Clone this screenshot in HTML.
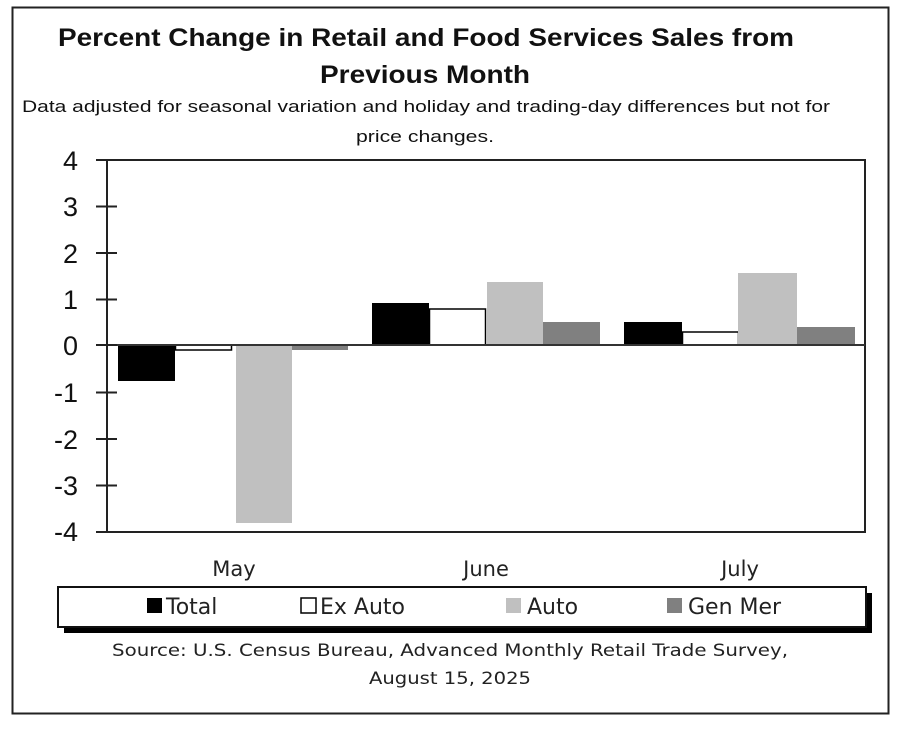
<!DOCTYPE html>
<html><head><meta charset="utf-8"><style>
html,body{margin:0;padding:0;background:#fff;}
svg{display:block;}
text{font-family:"Liberation Sans",Arial,sans-serif;}
</style></head><body>
<svg width="900" height="737" viewBox="0 0 900 737" xmlns="http://www.w3.org/2000/svg">
<rect x="0" y="0" width="900" height="737" fill="#fff"/>
<rect x="12.5" y="7.5" width="876" height="706" fill="none" stroke="#222" stroke-width="2"/>
<text x="58" y="46" font-size="25" font-weight="bold" fill="#111" textLength="736" lengthAdjust="spacingAndGlyphs">Percent Change in Retail and Food Services Sales from</text>
<text x="425" y="83" font-size="25" font-weight="bold" fill="#111" text-anchor="middle" textLength="210" lengthAdjust="spacingAndGlyphs">Previous Month</text>
<text x="22" y="112" font-size="17" fill="#111" textLength="808" lengthAdjust="spacingAndGlyphs">Data adjusted for seasonal variation and holiday and trading-day differences but not for</text>
<text x="425" y="142" font-size="17" fill="#111" text-anchor="middle" textLength="138" lengthAdjust="spacingAndGlyphs">price changes.</text>
<!-- bars -->
<g>
<rect x="118" y="345" width="57" height="36" fill="#000"/>
<rect x="175.5" y="345" width="56" height="5" fill="#fff" stroke="#000" stroke-width="1.5"/>
<rect x="236" y="345" width="56" height="178" fill="#c0c0c0"/>
<rect x="292" y="345" width="56" height="5" fill="#808080"/>
<rect x="372" y="303" width="57" height="42" fill="#000"/>
<rect x="429.5" y="309" width="56" height="36" fill="#fff" stroke="#000" stroke-width="1.5"/>
<rect x="487" y="282" width="56" height="63" fill="#c0c0c0"/>
<rect x="543" y="322" width="57" height="23" fill="#808080"/>
<rect x="624" y="322" width="58" height="23" fill="#000"/>
<rect x="682.5" y="332" width="56" height="13" fill="#fff" stroke="#000" stroke-width="1.5"/>
<rect x="738" y="273" width="59" height="72" fill="#c0c0c0"/>
<rect x="797" y="327" width="58" height="18" fill="#808080"/>
</g>
<!-- axes -->
<rect x="107" y="160" width="758" height="372" fill="none" stroke="#222" stroke-width="2"/>
<line x1="107" y1="345" x2="865" y2="345" stroke="#333" stroke-width="2"/>
<g stroke="#222" stroke-width="2">
<line x1="96" y1="160" x2="117" y2="160"/>
<line x1="96" y1="206.5" x2="117" y2="206.5"/>
<line x1="96" y1="253" x2="117" y2="253"/>
<line x1="96" y1="299.5" x2="117" y2="299.5"/>
<line x1="96" y1="345" x2="117" y2="345"/>
<line x1="96" y1="392.5" x2="117" y2="392.5"/>
<line x1="96" y1="439" x2="117" y2="439"/>
<line x1="96" y1="485.5" x2="117" y2="485.5"/>
<line x1="96" y1="532" x2="117" y2="532"/>
</g>
<g font-size="27" fill="#111" text-anchor="end">
<text x="78" y="170">4</text>
<text x="78" y="216">3</text>
<text x="78" y="263">2</text>
<text x="78" y="309">1</text>
<text x="78" y="355">0</text>
<text x="78" y="402">-1</text>
<text x="78" y="449">-2</text>
<text x="78" y="495">-3</text>
<text x="78" y="541">-4</text>
</g>
<g font-size="21" fill="#222" text-anchor="middle" font-family="DejaVu Sans, sans-serif">
<text x="234" y="576" style="font-family:'DejaVu Sans',sans-serif">May</text>
<text x="486" y="576" style="font-family:'DejaVu Sans',sans-serif">June</text>
<text x="740" y="576" style="font-family:'DejaVu Sans',sans-serif">July</text>
</g>
<!-- legend -->
<rect x="64" y="593" width="808" height="40" fill="#000"/>
<rect x="58" y="587" width="808" height="40" fill="#fff" stroke="#111" stroke-width="2"/>
<rect x="147" y="598" width="15" height="15" fill="#000"/>
<rect x="301" y="598" width="15" height="15" fill="#fff" stroke="#000" stroke-width="1.5"/>
<rect x="506" y="598" width="15" height="15" fill="#c0c0c0"/>
<rect x="667" y="598" width="15" height="15" fill="#808080"/>
<g font-size="22" fill="#222" style="font-family:'DejaVu Sans',sans-serif">
<text x="166" y="614" style="font-family:'DejaVu Sans',sans-serif">Total</text>
<text x="320" y="614" style="font-family:'DejaVu Sans',sans-serif">Ex Auto</text>
<text x="527" y="614" style="font-family:'DejaVu Sans',sans-serif">Auto</text>
<text x="688" y="614" style="font-family:'DejaVu Sans',sans-serif">Gen Mer</text>
</g>
<g font-size="17" fill="#222" text-anchor="middle">
<text x="450" y="656" style="font-family:'DejaVu Sans',sans-serif" textLength="676" lengthAdjust="spacingAndGlyphs">Source: U.S. Census Bureau, Advanced Monthly Retail Trade Survey,</text>
<text x="450" y="684" style="font-family:'DejaVu Sans',sans-serif" textLength="162" lengthAdjust="spacingAndGlyphs">August 15, 2025</text>
</g>
</svg>
</body></html>
